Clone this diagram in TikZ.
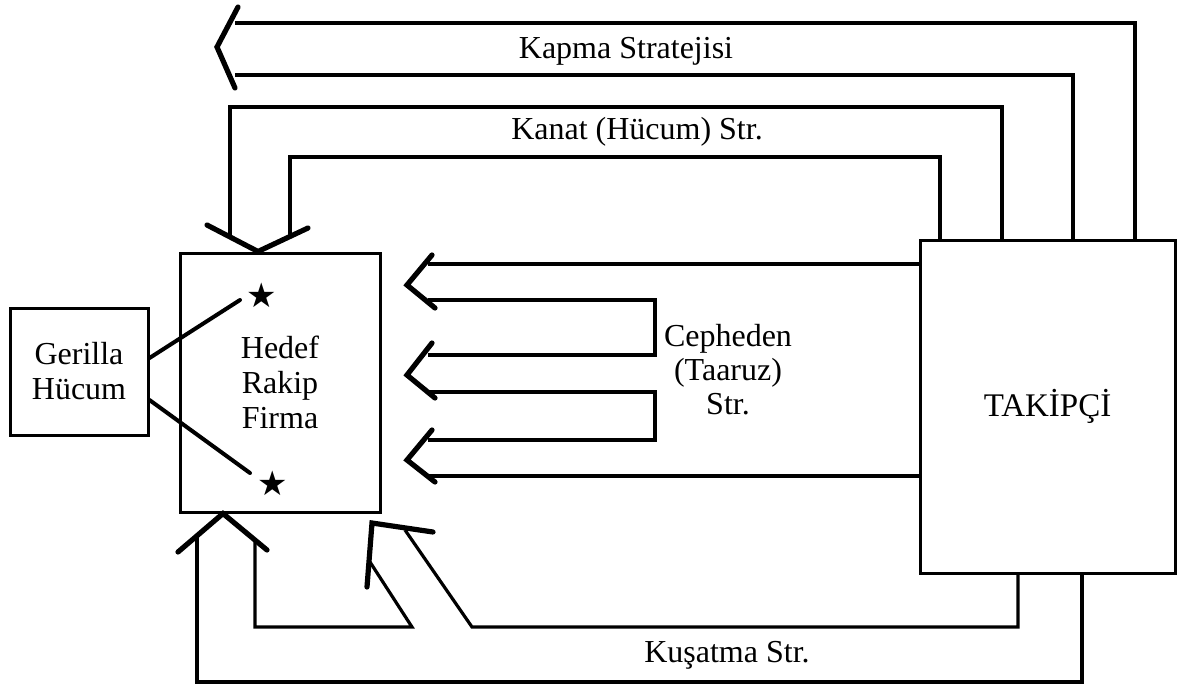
\documentclass[tikz,border=0pt]{standalone}
\usepackage{fontspec}
\setmainfont{Liberation Serif}
\newfontfamily\symfont{DejaVu Sans}
\begin{document}
\begin{tikzpicture}[x=0.5pt,y=-0.5pt,
  box/.style={draw, line width=1.5pt, inner sep=0pt, align=center, font=\fontsize{16}{17.5}\selectfont},
  conn/.style={line width=1.6pt, line join=miter},
  chev/.style={line width=2.6pt, line cap=round, line join=miter},
  thin/.style={line width=2pt, line cap=round},
  lbl/.style={inner sep=0pt, align=center, font=\fontsize{16}{17}\selectfont},
  starmark/.style={inner sep=0pt, font=\symfont\fontsize{17}{17}\selectfont}]
\useasboundingbox (0,0) rectangle (1178,687);

% boxes
\node[box, minimum width=69pt, minimum height=63.5pt] (gerilla) at (79,371.5) {Gerilla\\Hücum};
\node[box, minimum width=100pt, minimum height=129.5pt] (hedef) at (280,382.5) {Hedef\\Rakip\\Firma};
\node[box, minimum width=127.5pt, minimum height=166.5pt, font=\fontsize{16.5}{18}\selectfont] (takipci) at (1047.5,406.5) {TAKİPÇİ};

% stars
\node[starmark] (s1) at (262,295) {★};
\node[starmark] (s2) at (273,483) {★};
\draw[thin] (gerilla.east |- 0,358) -- (240,300);
\draw[thin] (gerilla.east |- 0,400) -- (250,473);

% Kapma Stratejisi
\draw[conn] (1135,0 |- takipci.north) -- (1135,23) -- (235,23);
\draw[conn] (1073,0 |- takipci.north) -- (1073,75) -- (235,75);
\draw[chev] (238,7) -- (217,47) -- (235,88);
\node[lbl] (kapma) at (626,51) {Kapma Stratejisi};

% Kanat (Hucum) Str.
\draw[conn] (1002,0 |- takipci.north) -- (1002,107) -- (230,107) -- (230,237);
\draw[conn] (940,0 |- takipci.north) -- (940,157) -- (290,157) -- (290,237);
\draw[chev] (207,225) -- (258,0 |- hedef.north) -- (308,228);
\node[lbl] (kanat) at (637,132) {Kanat (Hücum) Str.};

% Cepheden (Taaruz) Str.
\draw[conn] (takipci.west |- 0,264) -- (428,264);
\draw[chev] (432,255) -- (407,285) -- (435,308);
\draw[conn] (428,300) -- (655,300) -- (655,355) -- (428,355);
\draw[chev] (432,343) -- (407,375) -- (435,398);
\draw[conn] (428,392) -- (655,392) -- (655,440) -- (428,440);
\draw[chev] (432,430) -- (407,460) -- (435,482);
\draw[conn] (428,476) -- (takipci.west |- 0,476);
\node[lbl] (cepheden) at (728,370) {Cepheden\\(Taaruz)\\Str.};

% Kusatma Str.
\draw[conn] (1082,0 |- takipci.south) -- (1082,682) -- (197,682) -- (197,536);
\draw[conn] (1018,0 |- takipci.south) -- (1018,627) -- (472,627) -- (405,530);
\draw[conn] (255,540) -- (255,627) -- (412,627) -- (370,562);
\draw[chev] (178,552) -- (223,0 |- hedef.south) -- (267,550);
\draw[chev] (367,587) -- (372,523) -- (433,532);
\node[lbl] (kusatma) at (727,655) {Kuşatma Str.};
\end{tikzpicture}
\end{document}
